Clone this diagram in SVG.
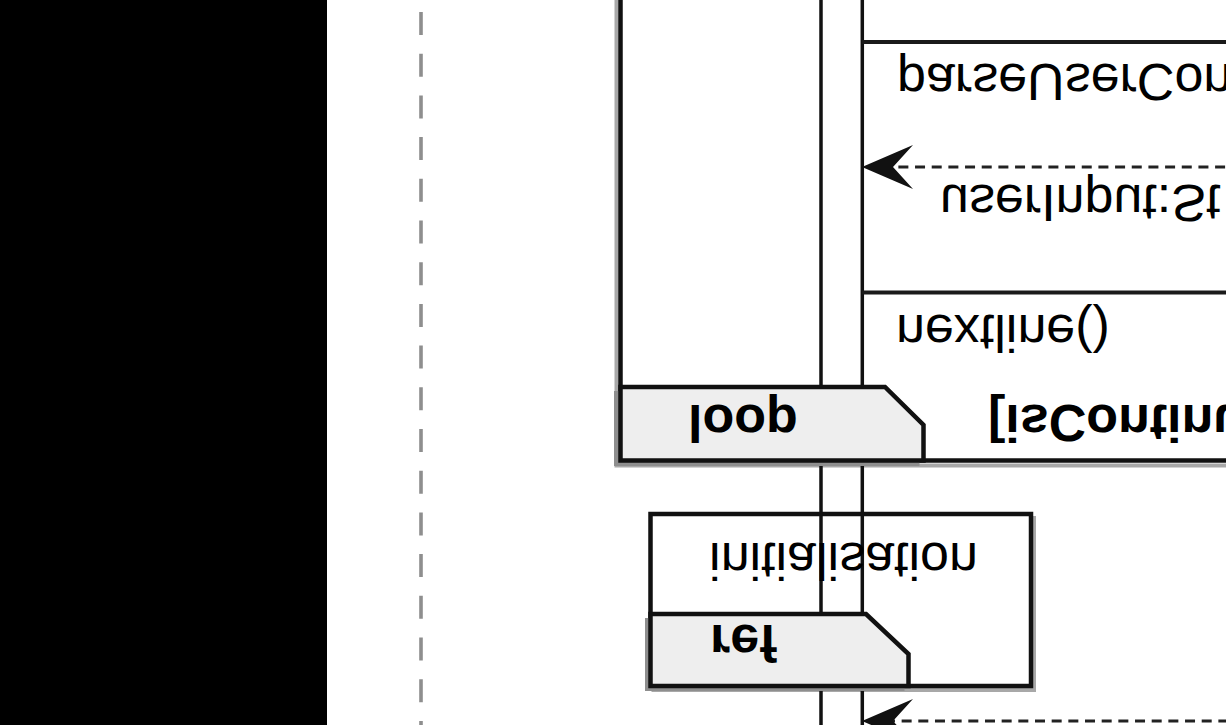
<svg xmlns="http://www.w3.org/2000/svg" width="1226" height="725" viewBox="0 0 1226 725">
  <style>
    .frame { fill: #ffffff; stroke: #111111; stroke-width: 4.5; }
    .fshadow { fill: none; stroke: #a8a8a8; stroke-width: 4; }
    .tab { fill: #eeeeee; stroke: #111111; stroke-width: 4.5; stroke-linejoin: miter; }
    .tshadow { fill: #8e8e8e; stroke: none; }
    .life { stroke: #111111; stroke-width: 3.5; fill: none; }
    .msg { stroke: #1a1a1a; stroke-width: 4; fill: none; }
    .ret { stroke: #222222; stroke-width: 3; fill: none; stroke-dasharray: 10 6.67; }
    .head { fill: #111111; stroke: none; }
    .guide { stroke: #8e8e8e; stroke-width: 3.6; fill: none; stroke-dasharray: 23 18.7; }
    .lbl { font-family: "Liberation Sans", Arial, sans-serif; font-size: 52px; fill: #000000; }
    .bold { font-weight: bold; }
  </style>

  <rect x="0" y="0" width="1226" height="725" fill="#ffffff"/>
  <rect x="0" y="0" width="327" height="725" fill="#000000"/>

  <line class="guide" x1="421" y1="12" x2="421" y2="730"/>

  <g id="loop-frame-body">
    <rect class="fshadow" x="616.5" y="-20" width="700" height="485.5"/>
    <rect class="frame" x="620.5" y="-20" width="700" height="480.5"/>
  </g>

  <g id="ref-frame-body">
    <rect class="fshadow" x="653.5" y="518" width="380.5" height="172" stroke="#c8c8c8"/>
    <rect class="frame" x="650.5" y="514" width="380.5" height="172"/>
  </g>

  <g id="connectors">
    <line class="life" x1="821" y1="-5" x2="821" y2="730"/>
    <line class="life" x1="862.3" y1="-5" x2="862.3" y2="730"/>
    <line class="msg" x1="862" y1="42" x2="1240" y2="42"/>
    <line class="msg" x1="862" y1="292.5" x2="1240" y2="292.5"/>
    <line class="ret" x1="881.7" y1="167" x2="1240" y2="167"/>
    <polygon class="head" points="862,167 913,145 893,167 913,189"/>
    <line class="ret" x1="868.3" y1="721" x2="1240" y2="721"/>
    <polygon class="head" points="862,721 913,699 893,721 913,743"/>
    <text class="lbl" transform="matrix(1,0,0,-1,897,64)">parseUserCon</text>
    <text class="lbl" transform="matrix(1,0,0,-1,940,185)">userInput:St</text>
    <text class="lbl" transform="matrix(1,0,0,-1,896,315)">nextline()</text>
  </g>

  <g id="loop-frame">
    <polygon class="tshadow" points="614,391 881,391 919.5,429 919.5,466 614,466"/>
    <polygon class="tab" points="620.5,387 885,387 923.5,425 923.5,460.5 620.5,460.5"/>
    <text class="lbl bold" transform="matrix(1,0,0,-1,688,405)">loop</text>
    <text class="lbl bold" transform="matrix(1,0,0,-1,988,405)">[isContinu</text>
  </g>

  <g id="ref-frame">
    <polygon class="tshadow" points="645,618 862,618 904.5,658 904.5,691 645,691"/>
    <polygon class="tab" points="650.5,614 866,614 908.5,654 908.5,686 650.5,686"/>
    <text class="lbl bold" transform="matrix(1,0,0,-1,710,625)">ref</text>
    <text class="lbl" text-anchor="middle" transform="matrix(1,0,0,-1,843.5,543)">initialisation</text>
  </g>
</svg>
